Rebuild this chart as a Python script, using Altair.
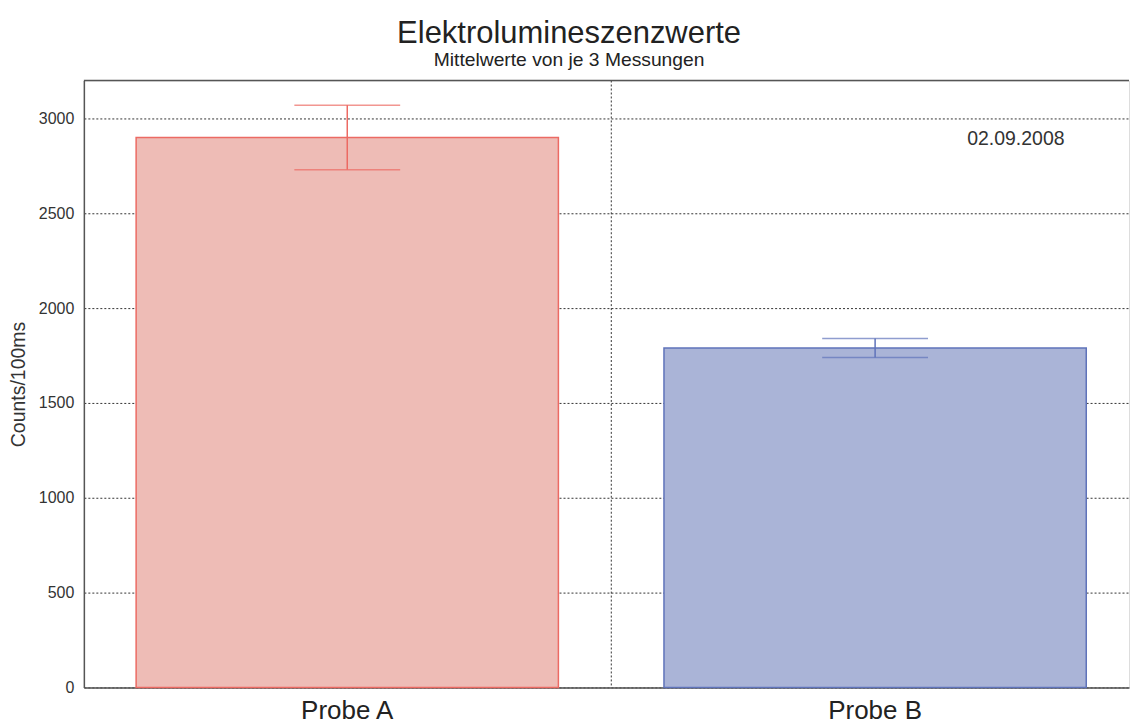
import altair as alt
import pandas as pd

categories = ["Probe A", "Probe B"]
means = [2900, 1790]
err_low = [2730, 1740]
err_high = [3070, 1840]
fill_colors = ["#eebcb6", "#aab4d7"]
stroke_colors = ["#ec6a63", "#5f73ba"]
y_ticks = [0, 500, 1000, 1500, 2000, 2500, 3000]
y_max = 3200
date_label = "02.09.2008"

df = pd.DataFrame({
    "cat": categories,
    "mean": means,
    "lo": err_low,
    "hi": err_high,
    "fill": fill_colors,
    "stroke": stroke_colors,
})

FONT = "Liberation Sans"

xscale = alt.Scale(domain=categories, paddingInner=0.2, paddingOuter=0.09, align=0.55)
yscale = alt.Scale(domain=[0, y_max], nice=False, zero=True)

x_enc = alt.X(
    "cat:N", scale=xscale, title=None,
    axis=alt.Axis(labelAngle=0, labelFontSize=26, labelColor="#222", labelFont=FONT,
                  labelAlign="center", bandPosition=0.5,
                  ticks=False, labelPadding=10, grid=False,
                  domainColor="#555", domainWidth=1.5),
)
y_enc = alt.Y(
    "mean:Q", scale=yscale, title="Counts/100ms",
    axis=alt.Axis(values=y_ticks, format="d", labelFontSize=16, labelColor="#333",
                  labelFont=FONT, ticks=False, labelPadding=10, grid=True,
                  gridColor="#333", gridDash=[2, 2], gridWidth=1,
                  domainColor="#555", domainWidth=1.5,
                  titleFontSize=19.5, titleFont=FONT, titleFontWeight="normal",
                  titleColor="#333", titlePadding=10),
)

base = alt.Chart(df)

bars = base.mark_bar(strokeWidth=1.5).encode(
    x=x_enc,
    y=y_enc,
    fill=alt.Fill("fill:N", scale=None, legend=None),
    stroke=alt.Stroke("stroke:N", scale=None, legend=None),
)

err_rule = base.mark_rule(strokeWidth=1.5).encode(
    x=alt.X("cat:N", scale=xscale),
    y=alt.Y("lo:Q", scale=yscale),
    y2="hi:Q",
    color=alt.Color("stroke:N", scale=None, legend=None),
)
cap_lo = base.mark_tick(size=106, thickness=1.5).encode(
    x=alt.X("cat:N", scale=xscale),
    y=alt.Y("lo:Q", scale=yscale),
    color=alt.Color("stroke:N", scale=None, legend=None),
)
cap_hi = base.mark_tick(size=106, thickness=1.5).encode(
    x=alt.X("cat:N", scale=xscale),
    y=alt.Y("hi:Q", scale=yscale),
    color=alt.Color("stroke:N", scale=None, legend=None),
)

divider = alt.Chart(pd.DataFrame({"cat": [categories[0]]})).mark_rule(
    color="#333", strokeDash=[2, 2], strokeWidth=1, xOffset=264.5
).encode(
    x=alt.X("cat:N", scale=xscale),
)

top_border = alt.Chart(pd.DataFrame({"v": [y_max]})).mark_rule(
    color="#555", strokeWidth=1.5
).encode(y=alt.Y("v:Q", scale=yscale))

date_text = alt.Chart(pd.DataFrame({"cat": [categories[1]], "v": [2890], "t": [date_label]})).mark_text(
    fontSize=19.5, font=FONT, color="#333", dx=141, baseline="middle", align="center"
).encode(
    x=alt.X("cat:N", scale=xscale),
    y=alt.Y("v:Q", scale=yscale),
    text="t:N",
)

chart = alt.layer(
    bars, divider, err_rule, cap_lo, cap_hi, top_border, date_text
).properties(
    width=1047,
    height=608,
    padding={"left": 0, "top": 8, "right": 0, "bottom": 0},
    title=alt.TitleParams(
        text="Elektrolumineszenzwerte",
        subtitle="Mittelwerte von je 3 Messungen",
        fontSize=31, font=FONT, fontWeight="normal", color="#222",
        subtitleFontSize=19.3, subtitleFont=FONT, subtitleColor="#222",
        subtitlePadding=2, offset=8, anchor="middle", frame="bounds",
    ),
).configure_view(stroke=None).configure(background="white")

chart.save("out.html", embed_options={"renderer": "svg", "actions": False})
